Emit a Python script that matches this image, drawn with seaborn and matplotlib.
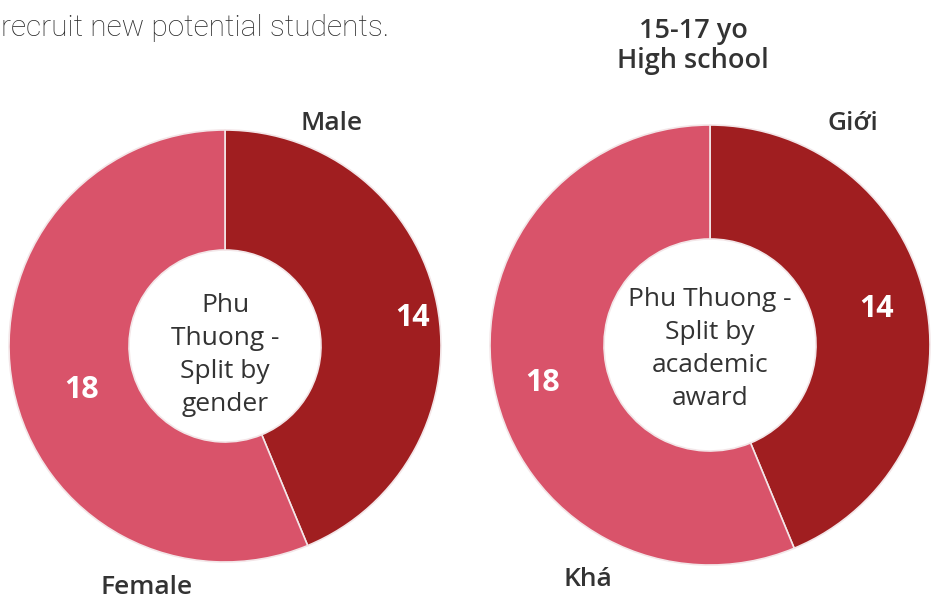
import matplotlib
matplotlib.use("Agg")
import matplotlib.pyplot as plt
import seaborn as sns

sns.set_theme(style="white")
plt.rcParams['font.family'] = ['Open Sans', 'DejaVu Sans']

# Data
categories_gender = ["Male", "Female"]
values_gender = [14, 18]
categories_award = ["Giới", "Khá"]
values_award = [14, 18]
center_gender = "Phu\nThuong -\nSplit by\ngender"
center_award = "Phu Thuong -\nSplit by\nacademic\naward"
header_text = "recruit new potential students."
title_text = "15-17 yo\nHigh school"

colors = ["#A01E20", "#D9536A"]

W, H = 933, 602
fig = plt.figure(figsize=(W / 100, H / 100), dpi=100)
ax = fig.add_axes([0, 0, 1, 1])

def Y(y):
    return H - y

def donut(cx, cy, r, rin, values, cats, center_text, val_pos, cat_pos, text_dy):
    ax.pie(values, colors=colors, startangle=90, counterclock=False,
           center=(cx, Y(cy)), radius=r, frame=True,
           wedgeprops=dict(width=r - rin, edgecolor="#F3E6E8", linewidth=1.2))
    for v, (x, y) in zip(values, val_pos):
        ax.text(x, Y(y), str(v), color="white", fontsize=22, fontweight="bold",
                ha="center", va="center")
    for c, (x, y) in zip(cats, cat_pos):
        ax.text(x, Y(y), c, color="#333333", fontsize=19, fontweight="semibold",
                ha="center", va="center")
    ax.text(cx, Y(cy + text_dy), center_text, color="#333333", fontsize=19,
            ha="center", va="center", linespacing=1.42)

donut(225, 346, 216, 96, values_gender, categories_gender, center_gender,
      [(413, 318), (82, 390)], [(332, 123), (147, 588)], 9)
donut(710, 345, 220, 106, values_award, categories_award, center_award,
      [(877, 309), (543, 383)], [(853, 124), (588, 580)], 4)

ax.set_xlim(0, W)
ax.set_ylim(0, H)
ax.set_aspect("equal")
ax.axis("off")

ax.text(1, Y(28), header_text, color="#2A2A2A", fontsize=21.5,
        family=["Roboto", "DejaVu Sans"], fontweight="light", ha="left", va="center")
ax.text(693, Y(46), title_text, color="#333333", fontsize=19.5, fontweight="semibold",
        ha="center", va="center", linespacing=1.05)

fig.savefig("out.png", dpi=100, facecolor="white")
